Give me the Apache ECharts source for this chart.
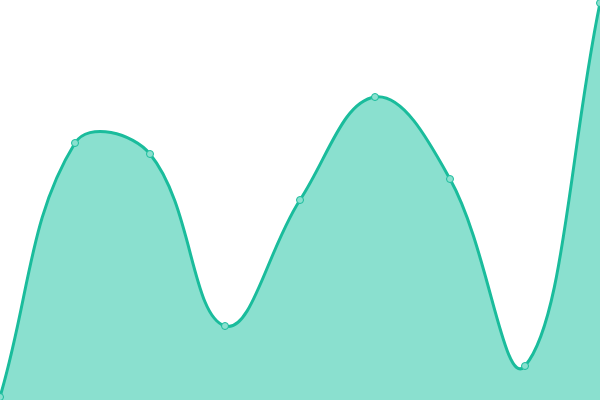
<!DOCTYPE html>
<html>
<head>
<meta charset="utf-8">
<style>
  html, body { margin: 0; padding: 0; background: #fff; }
  #chart { width: 600px; height: 400px; }
</style>
<script src="https://cdn.jsdelivr.net/npm/echarts@6/dist/echarts.min.js"></script>
</head>
<body>
<div id="chart"></div>
<script>
// 横轴分类与数值（读自图片）
let categories = ['1', '2', '3', '4', '5', '6', '7', '8', '9'];
let values = [3, 257, 246, 74, 200, 303, 221, 34, 397];

let tension = 0.4;

// 按相邻点计算贝塞尔控制点（样条曲线，允许越过端点）
let controlPoints = pts => {
    return pts.map((p, i) => {
        let prev = pts[i - 1] || p, next = pts[i + 1] || p;
        let d01 = Math.hypot(p[0] - prev[0], p[1] - prev[1]);
        let d12 = Math.hypot(next[0] - p[0], next[1] - p[1]);
        let sum = d01 + d12 || 1;
        let fa = tension * d01 / sum, fb = tension * d12 / sum;
        return {
            prev: [p[0] - fa * (next[0] - prev[0]), p[1] - fa * (next[1] - prev[1])],
            next: [p[0] + fb * (next[0] - prev[0]), p[1] + fb * (next[1] - prev[1])]
        };
    });
};

let traceSpline = (ctx, pts, cps, moveFirst) => {
    if (moveFirst) ctx.moveTo(pts[0][0], pts[0][1]);
    else ctx.lineTo(pts[0][0], pts[0][1]);
    for (let i = 1; i < pts.length; i++) {
        let a = cps[i - 1].next, b = cps[i].prev;
        ctx.bezierCurveTo(a[0], a[1], b[0], b[1], pts[i][0], pts[i][1]);
    }
};

echarts.graphic.registerShape('splineLine', echarts.graphic.extendShape({
    shape: { points: [] },
    buildPath: (ctx, shape) => {
        let pts = shape.points;
        if (!pts.length) return;
        traceSpline(ctx, pts, controlPoints(pts), true);
    }
}));

echarts.graphic.registerShape('splineArea', echarts.graphic.extendShape({
    shape: { points: [], base: 0 },
    buildPath: (ctx, shape) => {
        let pts = shape.points;
        if (!pts.length) return;
        ctx.moveTo(pts[0][0], shape.base);
        traceSpline(ctx, pts, controlPoints(pts), false);
        ctx.lineTo(pts[pts.length - 1][0], shape.base);
        ctx.closePath();
    }
}));

let chart = echarts.init(document.getElementById('chart'));
chart.setOption({
    animation: false,
    grid: { left: 0, right: 0, top: 0, bottom: 0 },
    xAxis: {
        type: 'category',
        boundaryGap: false,
        data: categories,
        show: false
    },
    yAxis: {
        type: 'value',
        min: 0,
        max: 400,
        show: false
    },
    series: [{
        type: 'custom',
        data: [0],
        silent: true,
        renderItem: (params, api) => {
            let pts = values.map((v, i) => api.coord([i, v]));
            let base = api.coord([0, 0])[1];
            return {
                type: 'group',
                children: [{
                    type: 'splineArea',
                    shape: { points: pts, base: base },
                    style: { fill: '#8ae0cf', stroke: null }
                }, {
                    type: 'splineLine',
                    shape: { points: pts },
                    style: { fill: null, stroke: '#1abc9c', lineWidth: 3 }
                }]
            };
        }
    }, {
        type: 'line',
        data: values,
        z: 5,
        symbol: 'circle',
        symbolSize: 7,
        lineStyle: { opacity: 0 },
        itemStyle: { color: '#8ae0cf', borderColor: '#1abc9c', borderWidth: 1 }
    }]
});
</script>
</body>
</html>
